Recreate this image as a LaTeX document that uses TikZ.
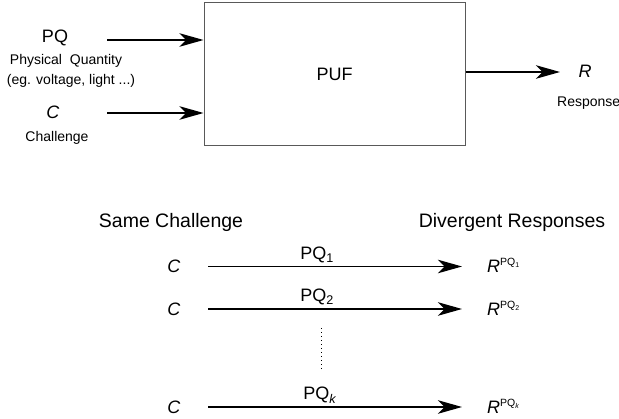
\documentclass[tikz,border=0pt]{standalone}
\usepackage{fontspec}
\setmainfont{Liberation Sans}
\usetikzlibrary{arrows.meta}

\newcommand{\resp}[1]{\textit{R}\raisebox{7pt}{\fontsize{10.5}{11}\selectfont PQ\raisebox{-2pt}{\fontsize{7}{8}\selectfont #1}}}

\begin{document}
\begin{tikzpicture}[x=1pt,y=-1pt,
  every node/.style={inner sep=0pt},
  big/.style={font=\fontsize{18}{20}\selectfont},
  small/.style={font=\fontsize{14}{16}\selectfont},
  head/.style={font=\fontsize{19.5}{22}\selectfont},
  arr/.style={-{Stealth[length=24pt,width=13.5pt,inset=6.5pt]},line width=1.3pt}]
  \useasboundingbox (0,0) rectangle (619,419);

  % top: the PUF block
  \node (puf)[draw=black!65,line width=1pt,minimum width=261pt,minimum height=143pt,big] at (334.5,74.5) {PUF};

  \node (pq)[big,anchor=base] at (55,43) {PQ};
  \node (pqname)[small,anchor=base] at (66,65) {Physical\ \ Quantity};
  \node (pqeg)[small,anchor=base] at (71,85) {(eg. voltage, light ...)};
  \node (c)[big,anchor=base] at (53,119) {\textit{C}};
  \node (cname)[small,anchor=base] at (57,141.5) {Challenge};
  \node (r)[big,anchor=base] at (585,78) {\textit{R}};
  \node (rname)[small,anchor=base west] at (557,107) {Response};

  \coordinate (pqin) at (107,40);
  \coordinate (cin) at (107,113);
  \coordinate (rout) at (560,72);

  \draw[arr] (pqin) -- (pqin -| puf.west);
  \draw[arr] (cin) -- (cin -| puf.west);
  \draw[arr] (puf.east |- rout) -- (rout);

  % bottom: same challenge, different PQs
  \node (same)[head,anchor=base] at (171,228) {Same Challenge};
  \node (diverg)[head,anchor=base] at (512,228) {Divergent Responses};

  \node (c1)[big] at (174,266.5) {\textit{C}};
  \node (c2)[big] at (174,309) {\textit{C}};
  \node (ck)[big] at (174,407) {\textit{C}};
  \node (r1)[big,anchor=base west] at (487,273) {\resp{1}};
  \node (r2)[big,anchor=base west] at (487,315.5) {\resp{2}};
  \node (rk)[big,anchor=base west] at (487,413.5) {\resp{\textit{k}}};

  \draw[arr,shorten <=27.5pt,shorten >=25pt] (c1.east) -- node[big,above=3pt,pos=.445] {PQ\textsubscript{1}} (c1.east -| r1.west);
  \draw[arr,shorten <=27.5pt,shorten >=25pt] (c2.east) -- node[big,above=3pt,pos=.445] {PQ\textsubscript{2}} (c2.east -| r2.west);
  \draw[arr,shorten <=27.5pt,shorten >=25pt] (ck.east) -- node[big,above=3pt,pos=.455] {PQ\textsubscript{\textit{k}}} (ck.east -| rk.west);

  \coordinate (dtop) at (321,328);
  \coordinate (dbot) at (321,370);
  \draw[line width=1pt,dash pattern=on 1pt off 3pt] (dtop) -- (dbot);
\end{tikzpicture}
\end{document}
